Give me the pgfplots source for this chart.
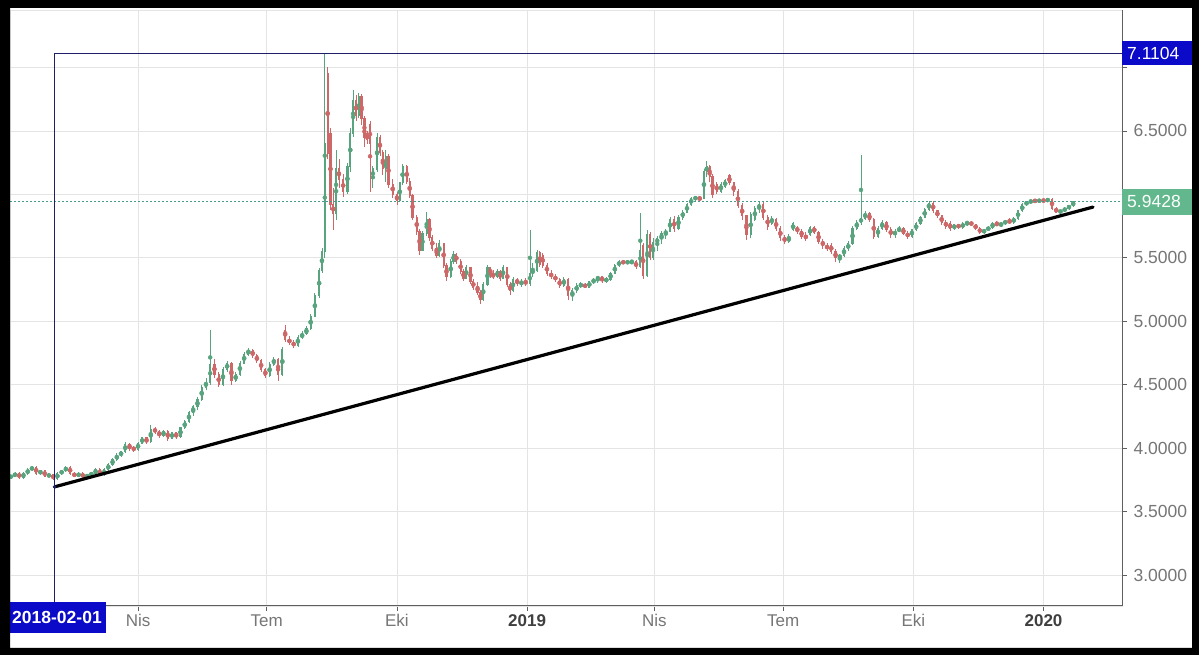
\documentclass[border=0pt]{standalone}
\usepackage{fontspec}
\setmainfont{Liberation Sans}
\usepackage{pgfplots}
\usepackage{pgfplotstable}
\pgfplotsset{compat=1.18}
\pgfdeclarelayer{bg}
\pgfsetlayers{bg,main}
\definecolor{upc}{RGB}{88,164,126}
\definecolor{dnc}{RGB}{206,104,104}
\definecolor{tvblue}{RGB}{10,10,200}
\definecolor{navyl}{RGB}{30,30,105}
\definecolor{gridc}{RGB}{228,228,228}
\definecolor{lblgray}{RGB}{118,118,118}
\definecolor{lastgreen}{RGB}{98,184,140}
\definecolor{dotc}{RGB}{70,155,140}
\definecolor{axc}{RGB}{95,95,95}

\pgfplotstableread{
d o h l c
0 3.77 3.79 3.76 3.78
3 3.78 3.81 3.77 3.80
6 3.80 3.81 3.76 3.77
9 3.77 3.81 3.76 3.80
12 3.80 3.84 3.79 3.83
15 3.83 3.86 3.82 3.85
18 3.85 3.86 3.79 3.80
21 3.80 3.83 3.79 3.82
24 3.82 3.83 3.77 3.78
27 3.78 3.80 3.77 3.79
30 3.79 3.80 3.75 3.76
33 3.76 3.81 3.75 3.80
36 3.80 3.83 3.79 3.82
39 3.82 3.86 3.81 3.85
42 3.85 3.86 3.79 3.80
45 3.80 3.81 3.77 3.78
48 3.78 3.81 3.77 3.80
51 3.80 3.81 3.76 3.77
54 3.77 3.80 3.76 3.79
57 3.79 3.81 3.78 3.80
60 3.80 3.84 3.79 3.83
63 3.83 3.84 3.78 3.79
66 3.79 3.84 3.78 3.83
69 3.83 3.88 3.82 3.87
72 3.87 3.92 3.86 3.91
75 3.91 3.96 3.90 3.945
78 3.945 3.98 3.93 3.97
81 3.97 4.05 3.96 4.03
84 4.03 4.04 3.98 4.00
87 4.00 4.02 3.97 3.99
90 3.99 4.05 3.98 4.04
93 4.04 4.09 4.03 4.08
96 4.08 4.09 4.03 4.05
99 4.05 4.18 4.04 4.15
102 4.15 4.17 4.11 4.13
105 4.13 4.14 4.08 4.10
108 4.10 4.14 4.09 4.13
111 4.13 4.14 4.06 4.08
114 4.08 4.13 4.07 4.12
117 4.12 4.13 4.07 4.09
120 4.09 4.17 4.08 4.16
123 4.16 4.22 4.15 4.21
126 4.21 4.29 4.20 4.28
129 4.28 4.34 4.25 4.33
132 4.33 4.40 4.30 4.38
135 4.38 4.50 4.37 4.48
138 4.48 4.55 4.46 4.52
141 4.52 4.93 4.50 4.66
144 4.66 4.70 4.55 4.58
147 4.58 4.60 4.48 4.50
150 4.50 4.64 4.49 4.62
153 4.62 4.69 4.60 4.67
156 4.67 4.68 4.50 4.53
159 4.53 4.60 4.52 4.58
162 4.58 4.69 4.57 4.67
165 4.67 4.76 4.66 4.74
168 4.74 4.79 4.73 4.77
171 4.77 4.78 4.71 4.73
174 4.73 4.74 4.67 4.69
177 4.69 4.70 4.60 4.62
180 4.62 4.63 4.55 4.57
183 4.57 4.68 4.56 4.66
186 4.66 4.72 4.65 4.70
189 4.70 4.71 4.53 4.58
192 4.58 4.80 4.57 4.78
194 4.93 4.97 4.84 4.86
197 4.86 4.88 4.81 4.83
200 4.83 4.85 4.79 4.81
203 4.81 4.89 4.80 4.87
206 4.87 4.92 4.86 4.90
209 4.90 4.96 4.89 4.94
212 4.94 5.06 4.93 5.04
215 5.04 5.22 5.03 5.20
218 5.20 5.42 5.18 5.40
220 5.40 5.58 5.38 5.55
222 5.55 7.1104 5.50 6.40
224 6.95 7.00 6.28 6.32
226 6.48 6.52 5.88 5.92
228 5.92 6.05 5.72 5.85
230 5.85 6.35 5.80 6.20
232 6.20 6.28 6.05 6.12
235 6.12 6.16 5.98 6.02
238 6.02 6.25 6.00 6.22
240 6.22 6.52 6.18 6.48
242 6.48 6.82 6.45 6.74
244 6.74 6.78 6.58 6.62
246 6.62 6.80 6.60 6.77
248 6.77 6.79 6.55 6.60
250 6.60 6.62 6.37 6.45
252 6.48 6.50 6.40 6.43
254 6.55 6.58 6.02 6.40
256 6.13 6.22 6.05 6.20
259 6.20 6.48 6.18 6.45
261 6.45 6.47 6.30 6.33
263 6.33 6.35 6.15 6.20
265 6.20 6.35 6.10 6.30
267 6.30 6.32 6.05 6.08
270 6.08 6.12 5.97 6.00
273 6.00 6.02 5.92 5.95
275 5.95 6.10 5.94 6.09
277 6.09 6.24 6.07 6.22
280 6.22 6.23 6.08 6.10
282 6.10 6.13 5.97 5.99
284 5.99 6.00 5.80 5.82
287 5.82 5.84 5.68 5.71
289 5.71 5.73 5.52 5.56
291 5.56 5.71 5.55 5.69
294 5.69 5.86 5.67 5.80
296 5.80 5.81 5.63 5.66
298 5.66 5.68 5.55 5.57
301 5.57 5.62 5.50 5.52
303 5.52 5.64 5.51 5.61
306 5.61 5.62 5.42 5.44
308 5.44 5.46 5.32 5.35
311 5.35 5.49 5.34 5.47
313 5.47 5.55 5.45 5.53
315 5.53 5.54 5.45 5.47
318 5.47 5.49 5.37 5.39
320 5.39 5.41 5.32 5.34
322 5.34 5.44 5.33 5.42
325 5.42 5.43 5.29 5.31
327 5.31 5.33 5.25 5.27
330 5.27 5.31 5.21 5.23
332 5.23 5.25 5.14 5.17
334 5.17 5.31 5.16 5.29
337 5.29 5.44 5.28 5.42
339 5.42 5.43 5.34 5.37
341 5.37 5.40 5.33 5.35
344 5.35 5.41 5.34 5.39
346 5.39 5.40 5.32 5.34
348 5.34 5.44 5.33 5.42
351 5.42 5.43 5.27 5.29
353 5.29 5.31 5.21 5.24
355 5.24 5.35 5.23 5.33
358 5.33 5.34 5.28 5.30
361 5.30 5.33 5.27 5.31
364 5.31 5.34 5.28 5.30
367 5.30 5.72 5.28 5.38
369 5.38 5.46 5.35 5.40
372 5.40 5.56 5.39 5.54
374 5.54 5.55 5.43 5.45
376 5.52 5.54 5.42 5.44
379 5.44 5.46 5.36 5.38
382 5.38 5.40 5.33 5.35
385 5.35 5.37 5.31 5.33
388 5.33 5.34 5.26 5.28
391 5.28 5.35 5.27 5.33
394 5.33 5.34 5.17 5.20
397 5.20 5.26 5.16 5.24
400 5.24 5.30 5.22 5.28
403 5.28 5.31 5.26 5.29
406 5.29 5.30 5.26 5.27
409 5.27 5.32 5.26 5.31
412 5.31 5.34 5.29 5.33
415 5.33 5.36 5.30 5.35
418 5.35 5.36 5.30 5.32
421 5.32 5.35 5.30 5.33
424 5.33 5.39 5.32 5.38
427 5.38 5.45 5.37 5.44
430 5.44 5.48 5.43 5.47
433 5.47 5.48 5.45 5.46
436 5.46 5.48 5.45 5.47
439 5.47 5.48 5.45 5.47
442 5.47 5.48 5.41 5.43
445 5.43 5.85 5.42 5.56
447 5.60 5.62 5.33 5.36
450 5.36 5.72 5.35 5.68
452 5.68 5.70 5.48 5.50
454 5.50 5.66 5.48 5.62
457 5.62 5.67 5.55 5.65
460 5.65 5.71 5.61 5.69
463 5.69 5.73 5.65 5.71
466 5.71 5.82 5.70 5.80
469 5.80 5.83 5.70 5.73
472 5.73 5.84 5.72 5.82
475 5.82 5.88 5.80 5.86
478 5.86 5.93 5.85 5.92
481 5.92 5.98 5.91 5.97
484 5.97 5.99 5.95 5.97
487 5.97 5.99 5.95 5.96
490 5.97 6.20 5.96 6.18
492 6.18 6.26 6.14 6.22
494 6.22 6.23 6.10 6.14
496 6.14 6.16 5.97 6.00
499 6.08 6.10 6.00 6.02
502 6.02 6.10 6.01 6.08
505 6.06 6.12 6.05 6.11
508 6.15 6.16 6.07 6.09
511 6.09 6.10 5.99 6.02
514 6.02 6.04 5.89 5.91
517 5.91 5.93 5.80 5.83
520 5.83 5.84 5.64 5.68
523 5.68 5.86 5.66 5.84
526 5.80 5.91 5.79 5.89
529 5.89 5.94 5.85 5.92
532 5.92 5.94 5.80 5.82
535 5.82 5.84 5.72 5.75
538 5.77 5.83 5.76 5.81
541 5.80 5.81 5.71 5.73
544 5.73 5.75 5.63 5.66
547 5.66 5.68 5.61 5.63
550 5.63 5.69 5.62 5.66
553 5.72 5.78 5.71 5.77
556 5.74 5.75 5.69 5.71
559 5.71 5.73 5.65 5.67
562 5.67 5.70 5.63 5.66
565 5.68 5.75 5.67 5.74
568 5.74 5.75 5.69 5.70
571 5.70 5.71 5.61 5.63
574 5.63 5.65 5.57 5.60
577 5.60 5.62 5.55 5.57
580 5.60 5.62 5.53 5.55
583 5.55 5.57 5.47 5.50
586 5.50 5.53 5.46 5.52
589 5.52 5.59 5.51 5.57
592 5.57 5.63 5.55 5.61
595 5.61 5.75 5.60 5.73
598 5.73 5.80 5.72 5.78
601 5.78 6.31 5.76 5.81
604 5.81 5.87 5.80 5.85
607 5.85 5.86 5.78 5.80
610 5.80 5.81 5.65 5.67
613 5.67 5.75 5.66 5.73
616 5.73 5.80 5.72 5.78
619 5.78 5.79 5.70 5.72
622 5.72 5.74 5.66 5.68
625 5.68 5.73 5.66 5.71
628 5.71 5.75 5.70 5.73
631 5.73 5.74 5.68 5.69
634 5.69 5.71 5.65 5.67
637 5.67 5.73 5.66 5.72
640 5.72 5.78 5.71 5.77
643 5.77 5.83 5.76 5.82
646 5.82 5.89 5.81 5.88
649 5.88 5.95 5.87 5.93
652 5.93 5.95 5.85 5.87
655 5.87 5.88 5.81 5.83
658 5.83 5.84 5.76 5.78
661 5.78 5.80 5.73 5.75
664 5.77 5.79 5.71 5.73
667 5.73 5.77 5.72 5.76
670 5.76 5.77 5.73 5.74
673 5.74 5.78 5.73 5.77
676 5.77 5.79 5.75 5.78
679 5.78 5.79 5.75 5.76
682 5.76 5.77 5.72 5.73
685 5.73 5.74 5.69 5.70
688 5.70 5.73 5.69 5.72
691 5.72 5.75 5.71 5.74
694 5.74 5.78 5.73 5.77
697 5.77 5.79 5.75 5.76
700 5.76 5.78 5.74 5.77
703 5.77 5.80 5.76 5.79
706 5.79 5.81 5.77 5.78
709 5.78 5.82 5.77 5.81
712 5.81 5.88 5.80 5.87
715 5.87 5.93 5.86 5.92
718 5.92 5.95 5.91 5.94
721 5.94 5.955 5.93 5.95
724 5.95 5.96 5.94 5.945
727 5.945 5.96 5.94 5.955
730 5.955 5.96 5.94 5.95
733 5.95 5.97 5.94 5.96
736 5.96 5.975 5.88 5.89
739 5.89 5.90 5.85 5.86
742 5.86 5.88 5.85 5.87
745 5.87 5.90 5.86 5.89
748 5.89 5.92 5.88 5.91
751 5.91 5.95 5.90 5.9428
}\candles

\begin{document}
\begin{tikzpicture}[x=1pt,y=1pt]
\begin{axis}[
  width=1112pt, height=596pt, scale only axis,
  xmin=-0.5, xmax=785.5, ymin=2.756, ymax=7.453,
  clip mode=individual,
  axis line style={draw=gridc},
  grid=major,
  major grid style={draw=gridc, line width=0.8pt},
  tick align=outside,
  major tick length=5pt,
  tick style={draw=axc, line width=0.8pt},
  xtick pos=bottom, ytick pos=right,
  yticklabel pos=right,
  xtick={90,181,273,365,455,546,638,730},
  xticklabels={Nis,Tem,Eki,{\color{black!75}\bfseries 2019},Nis,Tem,Eki,{\color{black!75}\bfseries 2020}},
  ytick={3,3.5,4,4.5,5,5.5,6,6.5,7},
  yticklabels={3.0000,3.5000,4.0000,4.5000,5.0000,5.5000,{},6.5000,{}},
  xticklabel style={font=\fontsize{17}{20}\selectfont, text=lblgray},
  yticklabel style={font=\fontsize{17.5}{20}\selectfont, text=lblgray, anchor=west, xshift=3pt},
]
\coordinate (O) at (rel axis cs:0,0);
% wicks
\addplot[only marks, mark=none, color=upc, forget plot,
  restrict expr to domain={\thisrow{c}-\thisrow{o}}{0:100},
  error bars/.cd, y dir=both, y explicit, error mark=none,
  error bar style={line width=0.8pt, color=upc}]
  table[x=d, y expr={(\thisrow{h}+\thisrow{l})/2}, y error expr={(\thisrow{h}-\thisrow{l})/2}]{\candles};
\addplot[only marks, mark=none, color=dnc, forget plot,
  restrict expr to domain={\thisrow{c}-\thisrow{o}}{-100:-0.00001},
  error bars/.cd, y dir=both, y explicit, error mark=none,
  error bar style={line width=0.8pt, color=dnc}]
  table[x=d, y expr={(\thisrow{h}+\thisrow{l})/2}, y error expr={(\thisrow{h}-\thisrow{l})/2}]{\candles};
% bodies
\addplot[only marks, mark=none, color=upc, forget plot,
  restrict expr to domain={\thisrow{c}-\thisrow{o}}{0:100},
  error bars/.cd, y dir=both, y explicit, error mark=none,
  error bar style={line width=2.2pt, color=upc}]
  table[x=d, y expr={(\thisrow{o}+\thisrow{c})/2}, y error expr={abs(\thisrow{c}-\thisrow{o})/2+0.004}]{\candles};
\addplot[only marks, mark=none, color=dnc, forget plot,
  restrict expr to domain={\thisrow{c}-\thisrow{o}}{-100:-0.00001},
  error bars/.cd, y dir=both, y explicit, error mark=none,
  error bar style={line width=2.2pt, color=dnc}]
  table[x=d, y expr={(\thisrow{o}+\thisrow{c})/2}, y error expr={abs(\thisrow{c}-\thisrow{o})/2+0.004}]{\candles};
% last price dotted line
\addplot[dotc, line width=0.9pt, dash pattern=on 2pt off 2pt, forget plot] coordinates {(-0.5,5.9428) (785.5,5.9428)};
% blue marker lines
\addplot[navyl, line width=1.7pt, forget plot] coordinates {(31,2.756) (31,7.1104) (785.5,7.1104)};
% trend line
\addplot[black, line width=3.2pt, line cap=round, forget plot] coordinates {(31,3.695) (765,5.90)};
\addplot[navyl, only marks, mark=*, mark size=1.6pt, forget plot] coordinates {(31,3.695)};
% dark bottom and right axis lines
\draw[axc, line width=1pt] (rel axis cs:0,0) -- (rel axis cs:1,0) -- (rel axis cs:1,1);
\end{axis}
\begin{scope}[shift={(O)}, shift={(-10,-49)}]
\begin{pgfonlayer}{bg}
\fill[white] (0,0) rectangle (1199,655);
\end{pgfonlayer}
% labels on the axes
\fill[tvblue] (1122,589.6) rectangle (1192,613.6);
\node[anchor=west, text=white, inner sep=0pt, font=\fontsize{17.5}{20}\selectfont] at (1127,601.6) {7.1104};
\fill[lastgreen] (1122,440.4) rectangle (1192,466.4);
\node[anchor=west, text=white, inner sep=0pt, font=\fontsize{17.5}{20}\selectfont] at (1127,453.4) {5.9428};
\fill[tvblue] (10,22) rectangle (106,53);
\node[text=white, inner sep=0pt, font=\fontsize{17.5}{20}\selectfont\bfseries] at (57,37.5) {2018-02-01};
% outer black frame
\fill[black, even odd rule] (0,0) rectangle (1199,655) (10,7) rectangle (1192,647);
\end{scope}
\end{tikzpicture}
\end{document}
